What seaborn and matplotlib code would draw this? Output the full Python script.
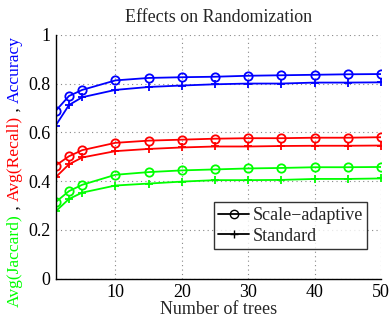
import matplotlib
matplotlib.use("Agg")
import matplotlib.pyplot as plt
from matplotlib.lines import Line2D
import seaborn as sns
import pandas as pd

n_trees = [1, 3, 5, 10, 15, 20, 25, 30, 35, 40, 45, 50]

acc_adaptive = [0.688, 0.749, 0.774, 0.813, 0.823, 0.826, 0.828, 0.832, 0.834, 0.836, 0.838, 0.839]
acc_standard = [0.628, 0.712, 0.744, 0.774, 0.786, 0.792, 0.797, 0.800, 0.800, 0.804, 0.804, 0.805]
rec_adaptive = [0.464, 0.502, 0.527, 0.557, 0.566, 0.570, 0.574, 0.576, 0.576, 0.578, 0.578, 0.580]
rec_standard = [0.416, 0.469, 0.497, 0.523, 0.532, 0.538, 0.542, 0.542, 0.544, 0.545, 0.545, 0.546]
jac_adaptive = [0.314, 0.359, 0.385, 0.426, 0.437, 0.444, 0.448, 0.452, 0.454, 0.457, 0.457, 0.458]
jac_standard = [0.276, 0.327, 0.353, 0.382, 0.390, 0.398, 0.404, 0.404, 0.405, 0.409, 0.409, 0.411]

title = "Effects on Randomization"
xlabel = "Number of trees"
legend_labels = ["Scale\u2212adaptive", "Standard"]
ylabel_parts = [("Avg(Jaccard)", "#00ff00"), (" , ", "black"), ("Avg(Recall)", "#ff0000"),
                (" , ", "black"), ("Accuracy", "#0000ff")]

sns.set_style("white")
plt.rcParams["font.family"] = ["Liberation Serif", "DejaVu Serif"]

fig = plt.figure(figsize=(3.9, 3.22), dpi=100)
ax = fig.add_axes([0.1428, 0.1345, 0.977 - 0.1428, 0.892 - 0.1345])

series = [
    (acc_adaptive, "#0000ff", "o"), (acc_standard, "#0000ff", "+"),
    (rec_adaptive, "#ff0000", "o"), (rec_standard, "#ff0000", "+"),
    (jac_adaptive, "#00ff00", "o"), (jac_standard, "#00ff00", "+"),
]
for vals, col, mk in series:
    df = pd.DataFrame({"x": n_trees, "y": vals})
    sns.lineplot(data=df, x="x", y="y", ax=ax, color=col, marker=mk, markersize=6,
                 markerfacecolor="none", markeredgecolor=col, markeredgewidth=1.3,
                 linewidth=1.3, legend=False)

ax.set_xlim(1, 50)
ax.set_ylim(0, 1)
ax.set_xticks([10, 20, 30, 40, 50])
ax.set_yticks([0, 0.2, 0.4, 0.6, 0.8, 1])
ax.set_yticklabels(["0", "0.2", "0.4", "0.6", "0.8", "1"])
ax.grid(True, linestyle=(0, (1, 3)), color="#888888", linewidth=0.8)
for s in ["top", "right"]:
    ax.spines[s].set_visible(False)
for s in ["left", "bottom"]:
    ax.spines[s].set_color("black")
    ax.spines[s].set_linewidth(1.0)
ax.tick_params(direction="in", length=3, labelsize=13, colors="black", pad=4)
ax.set_xlabel(xlabel, fontsize=13, labelpad=0)
ax.set_ylabel("")
ax.set_title(title, fontsize=13, pad=9)

handles = [Line2D([], [], color="black", marker="o", markerfacecolor="none", markersize=6, linewidth=1.3),
           Line2D([], [], color="black", marker="+", markersize=6, linewidth=1.3)]
leg = ax.legend(handles, legend_labels, loc="lower right", bbox_to_anchor=(0.958, 0.1216),
                fontsize=13, frameon=True, fancybox=False, handlelength=1.7,
                handletextpad=0.2, borderpad=0.25, labelspacing=0.2, borderaxespad=0)
leg.get_frame().set_edgecolor("black")
leg.get_frame().set_linewidth(1.0)

# multi-coloured rotated y label
fig.canvas.draw()
renderer = fig.canvas.get_renderer()
x_pos = 15 / 390
y_px = 322 - 307
for txt, col in ylabel_parts:
    t = fig.text(x_pos, y_px / 322, txt, color=col, rotation=90, fontsize=12.6,
                 ha="center", va="bottom")
    bb = t.get_window_extent(renderer)
    y_px += bb.height

fig.savefig("out.png", dpi=100)
